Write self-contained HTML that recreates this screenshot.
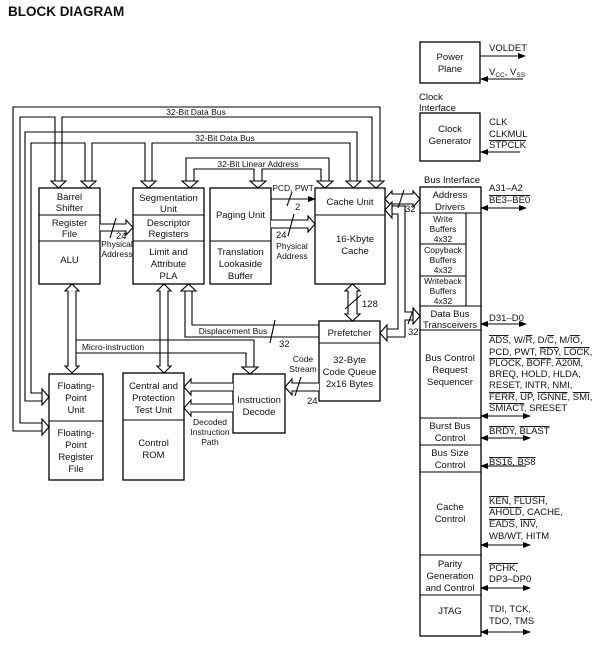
<!DOCTYPE html>
<html><head><meta charset="utf-8"><style>
body{margin:0;background:#fff}
svg{display:block;font-family:"Liberation Sans",Arial,sans-serif}
.b{fill:#fff;stroke:#000;stroke-width:1.3}
.l{fill:none;stroke:#000;stroke-width:1.1}
.h{fill:#fff;stroke:#000;stroke-width:1.1}
text{font-size:9.5px;fill:#111}
.c{text-anchor:middle}
.s{font-size:8.5px}
.o{text-decoration:overline}
</style></head><body>
<svg width="600" height="650" viewBox="0 0 600 650" xmlns="http://www.w3.org/2000/svg">
<defs><marker id="a" markerWidth="8" markerHeight="8" refX="7" refY="4" orient="auto" markerUnits="userSpaceOnUse"><path d="M0,1 L8,4 L0,7z" fill="#000"/></marker>
<marker id="as" markerWidth="8" markerHeight="8" refX="1" refY="4" orient="auto" markerUnits="userSpaceOnUse"><path d="M8,1 L0,4 L8,7z" fill="#000"/></marker></defs>
<text x="8" y="16" style="font-size:13.5px;font-weight:bold">BLOCK DIAGRAM</text>

<path class="l" d="M42,431 L13,431 L13,107 L380,107 L380,181"/>
<path class="l" d="M42,423 L20,423 L20,117 L55,117 L55,181 M62,181 L62,117 L372,117 L372,181"/>
<polygon class="h" points="42,419 42,435 49,427"/>
<polygon class="h" points="368,181 384,181 376,188"/>
<polygon class="h" points="51,181 66,181 58.5,188"/>
<text class="c s" x="196" y="115">32-Bit Data Bus</text>
<path class="l" d="M42,401 L25,401 L25,132 L357,132 L357,181"/>
<path class="l" d="M42,393 L31,393 L31,143 L85,143 L85,181 M92,181 L92,143 L145,143 L145,181 M152,181 L152,143 L350,143 L350,181"/>
<polygon class="h" points="42,389 42,405 49,397"/>
<polygon class="h" points="81,181 96,181 88.5,188"/>
<polygon class="h" points="141,181 156,181 148.5,188"/>
<polygon class="h" points="346,181 361,181 353.5,188"/>
<text class="c s" x="225" y="141">32-Bit Data Bus</text>
<path class="l" d="M186,181 L186,158 L329,158 L329,181 M194,181 L194,169 L254,169 L254,181 M262,181 L262,169 L321,169 L321,181"/>
<polygon class="h" points="182,181 198,181 190,188"/>
<polygon class="h" points="250,181 266,181 258,188"/>
<polygon class="h" points="317,181 333,181 325,188"/>
<text class="c s" x="258" y="167">32-Bit Linear Address</text>

<rect class="b" x="39" y="188" width="61" height="96"/>
<path class="l" d="M39,215 H100 M39,241 H100"/>
<text class="c" x="69.5" y="200">Barrel</text><text class="c" x="69.5" y="211">Shifter</text>
<text class="c" x="69.5" y="226">Register</text><text class="c" x="69.5" y="237">File</text>
<text class="c" x="69.5" y="263">ALU</text>

<rect class="b" x="133" y="188" width="71" height="96"/>
<path class="l" d="M133,215 H204 M133,241 H204"/>
<text class="c" x="168.5" y="201">Segmentation</text><text class="c" x="168.5" y="212">Unit</text>
<text class="c" x="168.5" y="226">Descriptor</text><text class="c" x="168.5" y="237">Registers</text>
<text class="c" x="168.5" y="255">Limit and</text><text class="c" x="168.5" y="267">Attribute</text><text class="c" x="168.5" y="279">PLA</text>

<rect class="b" x="210" y="188" width="61" height="96"/>
<path class="l" d="M210,241 H271"/>
<text class="c" x="240.5" y="218">Paging Unit</text>
<text class="c" x="240.5" y="255">Translation</text><text class="c" x="240.5" y="267">Lookaside</text><text class="c" x="240.5" y="279">Buffer</text>

<rect class="b" x="315" y="188" width="70" height="96"/>
<path class="l" d="M315,215 H385"/>
<text class="c" x="350" y="205">Cache Unit</text>
<text class="c" x="355" y="242">16-Kbyte</text><text class="c" x="355" y="254">Cache</text>

<rect class="b" x="319" y="321" width="61" height="80"/>
<path class="l" d="M319,343 H380"/>
<text class="c" x="349.5" y="336">Prefetcher</text>
<text class="c" x="349.5" y="363">32-Byte</text><text class="c" x="349.5" y="375">Code Queue</text><text class="c" x="349.5" y="387">2x16 Bytes</text>

<rect class="b" x="49" y="374" width="54" height="106"/>
<path class="l" d="M49,421 H103"/>
<text class="c" x="76" y="389">Floating-</text><text class="c" x="76" y="401">Point</text><text class="c" x="76" y="413">Unit</text>
<text class="c" x="76" y="436">Floating-</text><text class="c" x="76" y="448">Point</text><text class="c" x="76" y="460">Register</text><text class="c" x="76" y="472">File</text>

<rect class="b" x="123" y="373" width="61" height="107"/>
<path class="l" d="M123,420 H184"/>
<text class="c" x="153.5" y="389">Central and</text><text class="c" x="153.5" y="401">Protection</text><text class="c" x="153.5" y="413">Test Unit</text>
<text class="c" x="153.5" y="446">Control</text><text class="c" x="153.5" y="458">ROM</text>

<rect class="b" x="233" y="374" width="52" height="59"/>
<text class="c" x="259" y="403">Instruction</text><text class="c" x="259" y="415">Decode</text>

<polyline class="h" points="100,224 126,224 126,220 133,227.5 126,235 126,231 100,231"/>
<path class="l" d="M110,238 L116,218"/>
<text x="116" y="239">24</text>
<text class="c s" x="117" y="247">Physical</text><text class="c s" x="117" y="257">Address</text>
<path class="l" d="M271,199 H315" marker-end="url(#a)"/>
<path class="l" d="M287,206 L292,192"/>
<text class="c s" x="293" y="191">PCD, PWT</text>
<text x="295" y="210">2</text>
<polyline class="h" points="271,220 308,220 308,216 315,224 308,232 308,228 271,228"/>
<path class="l" d="M288,236 L294,214"/>
<text x="276" y="238">24</text>
<text class="c s" x="292" y="249">Physical</text><text class="c s" x="292" y="259">Address</text>
<polygon class="h" points="385,199 392,191 392,194 413,194 413,191 420,199 413,207 413,204 392,204 392,207"/>
<path class="l" d="M398,208 L404,190"/>
<text x="405" y="212">32</text>
<polygon class="h" points="352.5,284 360,291 357,291 357,314 360,314 352.5,321 345,314 348,314 348,291 345,291"/>
<path class="l" d="M345,309 L361,295"/>
<text x="362" y="307">128</text>
<path class="l" d="M392,206 L405,206 L405,312 L413,312 M413,320 L405,320 L405,337 L387,337 M392,214 L398,214 L398,329 L387,329"/>
<polygon class="h" points="392,202 392,218 385,210"/>
<polygon class="h" points="413,308 413,324 420,316"/>
<polygon class="h" points="387,325 387,341 380,333"/>
<path class="l" d="M408,324 L414,308"/>
<text x="408" y="335">32</text>
<path class="l" d="M319,337 L185,337 L185,291 M319,325 L192,325 L192,291"/>
<polygon class="h" points="181,291 196,291 188.5,284"/>
<text class="c s" x="233" y="334">Displacement Bus</text>
<path class="l" d="M270,343 L275,320"/>
<text x="279" y="347">32</text>
<polygon class="h" points="164,284 171,291 168,291 168,366 171,366 164,373 157,366 160,366 160,291 157,291"/>
<polygon class="h" points="72,284 79,291 76,291 76,366 79,366 72,373 65,366 68,366 68,291 65,291"/>
<path class="l" d="M76,340 L254,340 L254,367 M76,353 L246,353 L246,367"/>
<polygon class="h" points="242,367 258,367 250,374"/>
<text class="c s" x="113" y="350">Micro-instruction</text>
<polyline class="h" points="233,383 191,383 191,379 184,387 191,395 191,391 233,391"/>
<polyline class="h" points="233,404 191,404 191,400 184,408 191,416 191,412 233,412"/>
<text class="c s" x="210" y="425">Decoded</text><text class="c s" x="210" y="435">Instruction</text><text class="c s" x="210" y="445">Path</text>
<polyline class="h" points="319,383 292,383 292,379 285,387 292,395 292,391 319,391"/>
<path class="l" d="M295,396 L301,377"/>
<text class="c s" x="303" y="362">Code</text><text class="c s" x="303" y="372">Stream</text>
<text x="307" y="404">24</text>

<rect class="b" x="420" y="42" width="60" height="41"/>
<text class="c" x="450" y="60">Power</text><text class="c" x="450" y="72">Plane</text>
<path class="l" d="M480,56 H525" marker-end="url(#a)"/>
<path class="l" d="M481,79 H523" marker-start="url(#as)"/>
<text x="489" y="51">VOLDET</text>
<text x="489" y="75">V<tspan style="font-size:6.5px" dy="2">CC</tspan><tspan dy="-2">, V</tspan><tspan style="font-size:6.5px" dy="2">SS</tspan></text>
<text x="419" y="100">Clock</text><text x="419" y="111">Interface</text>
<rect class="b" x="420" y="113" width="60" height="48"/>
<text class="c" x="450" y="132">Clock</text><text class="c" x="450" y="144">Generator</text>
<text x="489" y="125">CLK</text><text x="489" y="137">CLKMUL</text><text x="489" y="148" class="o">STPCLK</text>
<path class="l" d="M481,152 H520" marker-start="url(#as)"/>
<text x="424" y="183">Bus Interface</text>

<rect class="b" x="420" y="187" width="61" height="449"/>
<path class="l" d="M420,213 H481 M466,213 V306 M420,244 H466 M420,276 H466 M420,306 H481 M420,330 H481 M420,418 H481 M420,445 H481 M420,472 H481 M420,555 H481 M420,595 H481"/>
<text class="c" x="450" y="198">Address</text><text class="c" x="450" y="210">Drivers</text>
<text class="c s" x="443" y="222">Write</text><text class="c s" x="443" y="232">Buffers</text><text class="c s" x="443" y="242">4x32</text>
<text class="c s" x="443" y="253">Copyback</text><text class="c s" x="443" y="263">Buffers</text><text class="c s" x="443" y="273">4x32</text>
<text class="c s" x="443" y="284">Writeback</text><text class="c s" x="443" y="294">Buffers</text><text class="c s" x="443" y="304">4x32</text>
<text class="c" x="450" y="317">Data Bus</text><text class="c" x="450" y="328">Transceivers</text>
<text class="c" x="450" y="361">Bus Control</text><text class="c" x="450" y="373">Request</text><text class="c" x="450" y="385">Sequencer</text>
<text class="c" x="450" y="429">Burst Bus</text><text class="c" x="450" y="441">Control</text>
<text class="c" x="450" y="456">Bus Size</text><text class="c" x="450" y="468">Control</text>
<text class="c" x="450" y="510">Cache</text><text class="c" x="450" y="522">Control</text>
<text class="c" x="450" y="567">Parity</text><text class="c" x="450" y="579">Generation</text><text class="c" x="450" y="591">and Control</text>
<text class="c" x="450" y="614">JTAG</text>

<text x="489" y="191">A31–A2</text><text x="489" y="203" class="o">BE3–BE0</text>
<path class="l" d="M481,208 H526" marker-start="url(#as)" marker-end="url(#a)"/>
<text x="489" y="321">D31–D0</text>
<path class="l" d="M481,324 H526" marker-start="url(#as)" marker-end="url(#a)"/>
<text x="489" y="343"><tspan class="o">ADS</tspan>, W/<tspan class="o">R</tspan>, D/<tspan class="o">C</tspan>, M/<tspan class="o">IO</tspan>,</text>
<text x="489" y="355">PCD, PWT, <tspan class="o">RDY</tspan>, <tspan class="o">LOCK</tspan>,</text>
<text x="489" y="366"><tspan class="o">PLOCK</tspan>, <tspan class="o">BOFF</tspan>, <tspan class="o">A20M</tspan>,</text>
<text x="489" y="377">BREQ, HOLD, HLDA,</text>
<text x="489" y="388">RESET, INTR, NMI,</text>
<text x="489" y="400"><tspan class="o">FERR</tspan>, <tspan class="o">UP</tspan>, <tspan class="o">IGNNE</tspan>, <tspan class="o">SMI</tspan>,</text>
<text x="489" y="411"><tspan class="o">SMIACT</tspan>, SRESET</text>
<path class="l" d="M481,416 H530" marker-start="url(#as)" marker-end="url(#a)"/>
<text x="489" y="434"><tspan class="o">BRDY</tspan>, <tspan class="o">BLAST</tspan></text>
<path class="l" d="M481,438 H530" marker-start="url(#as)" marker-end="url(#a)"/>
<text x="489" y="465"><tspan class="o">BS16</tspan>, <tspan class="o">BS8</tspan></text>
<path class="l" d="M481,466 H526" marker-start="url(#as)"/>
<text x="489" y="504"><tspan class="o">KEN</tspan>, <tspan class="o">FLUSH</tspan>,</text>
<text x="489" y="515"><tspan class="o">AHOLD</tspan>, CACHE,</text>
<text x="489" y="527"><tspan class="o">EADS</tspan>, <tspan class="o">INV</tspan>,</text>
<text x="489" y="539">WB/WT, HITM</text>
<path class="l" d="M481,545 H530" marker-start="url(#as)" marker-end="url(#a)"/>
<text x="489" y="571" class="o">PCHK,</text>
<text x="489" y="582">DP3–DP0</text>
<path class="l" d="M481,588 H530" marker-start="url(#as)" marker-end="url(#a)"/>
<text x="489" y="612">TDI, TCK,</text>
<text x="489" y="624">TDO, TMS</text>
<path class="l" d="M481,632 H530" marker-start="url(#as)" marker-end="url(#a)"/>
</svg>
</body></html>
